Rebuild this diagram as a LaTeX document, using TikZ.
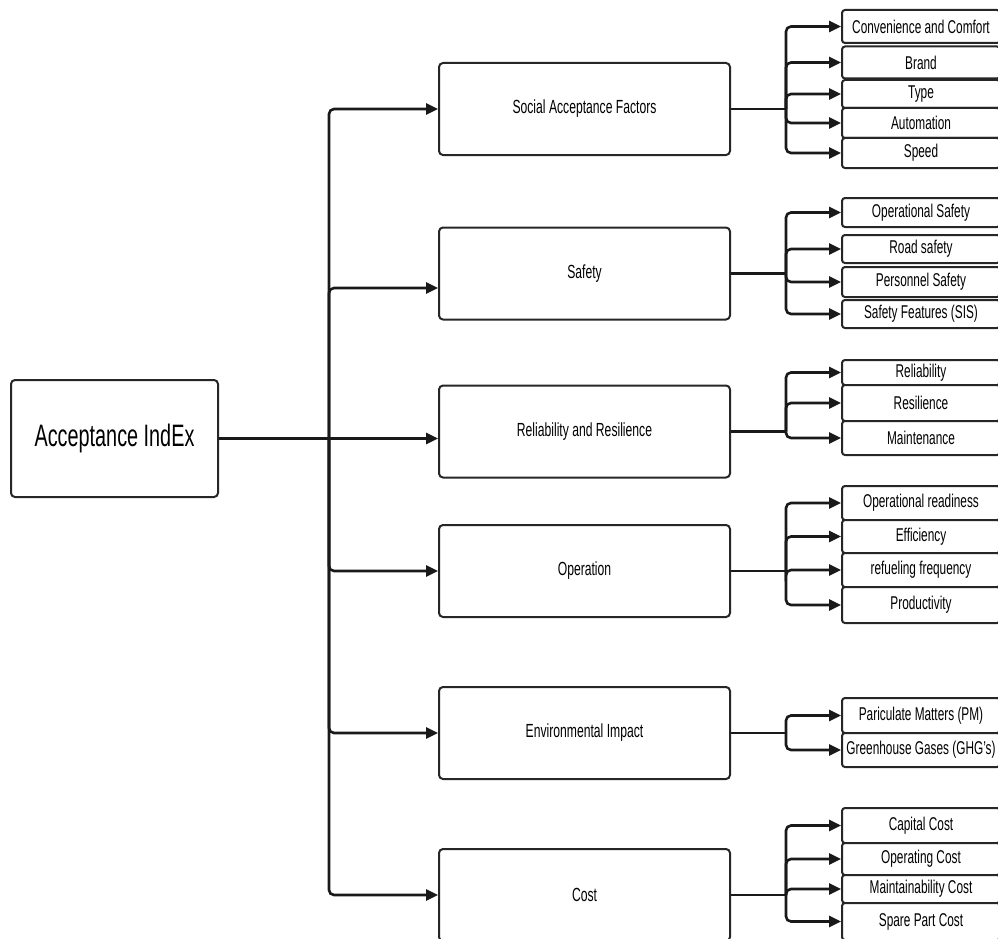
\documentclass[tikz,border=0pt]{standalone}
\usepackage{fontspec}
\setmainfont{Liberation Sans}[FakeStretch=0.64]
\usetikzlibrary{arrows.meta}
\begin{document}
\begin{tikzpicture}[x=1pt,y=-1pt,
  box/.style={draw=black!85, line width=2pt, rounded corners=4pt, fill=white, inner sep=0pt, text=black},
  mid/.style={box, minimum width=291pt, minimum height=92pt, font=\fontsize{19}{22}\selectfont},
  leaf/.style={box, rounded corners=3pt, minimum width=158pt, anchor=west, font=\fontsize{18.5}{22}\selectfont},
  conn/.style={draw=black!90, line width=2.6pt, rounded corners=5pt},
  arr/.style={conn, -{Triangle[length=12pt,width=11pt]}}]
\useasboundingbox (0,0) rectangle (998,939);

% main node
\node[box, minimum width=207pt, minimum height=117pt, font=\fontsize{31}{36}\selectfont] (main) at (114.5,438.5) {Acceptance IndEx};

% middle nodes
\node[mid] (soc) at (584.5,109) {Social Acceptance Factors};
\node[mid] (saf) at (584.5,273.5) {Safety};
\node[mid] (rel) at (584.5,431.5) {Reliability and Resilience};
\node[mid] (ope) at (584.5,571) {Operation};
\node[mid] (env) at (584.5,733) {Environmental Impact};
\node[mid] (cst) at (584.5,895) {Cost};

% leaves: Social
\node[leaf, minimum height=33pt] (s1) at (841,26.5) {Convenience and Comfort};
\node[leaf, minimum height=32pt] (s2) at (841,62.5) {Brand};
\node[leaf, minimum height=28pt] (s3) at (841,94) {Type};
\node[leaf, minimum height=30pt] (s4) at (841,123) {Automation};
\node[leaf, minimum height=30pt] (s5) at (841,153) {Speed};
% Safety
\node[leaf, minimum height=29pt] (f1) at (841,212.5) {Operational Safety};
\node[leaf, minimum height=28pt] (f2) at (841,249) {Road safety};
\node[leaf, minimum height=30pt] (f3) at (841,282) {Personnel Safety};
\node[leaf, minimum height=28pt] (f4) at (841,314) {Safety Features (SIS)};
% Reliability
\node[leaf, minimum height=25pt] (r1) at (841,372.5) {Reliability};
\node[leaf, minimum height=36pt] (r2) at (841,403) {Resilience};
\node[leaf, minimum height=34pt] (r3) at (841,438) {Maintenance};
% Operation
\node[leaf, minimum height=34pt] (o1) at (841,503) {Operational readiness};
\node[leaf, minimum height=33pt] (o2) at (841,536.5) {Efficiency};
\node[leaf, minimum height=34pt] (o3) at (841,570) {refueling frequency};
\node[leaf, minimum height=36pt] (o4) at (841,605) {Productivity};
% Environment
\node[leaf, minimum height=35pt] (e1) at (841,715.5) {Pariculate Matters (PM)};
\node[leaf, minimum height=34pt] (e2) at (841,750) {Greenhouse Gases (GHG's)};
% Cost
\node[leaf, minimum height=35pt] (c1) at (841,825.5) {Capital Cost};
\node[leaf, minimum height=32pt] (c2) at (841,859) {Operating Cost};
\node[leaf, minimum height=28pt] (c3) at (841,889) {Maintainability Cost};
\node[leaf, minimum height=37pt] (c4) at (841,921.5) {Spare Part Cost};

% trunk
\coordinate (t) at (329,438.5);
\draw[conn] (main.east) -- (t);
\draw[arr] (t) -- (rel.west |- t);
\draw[arr] (t) |- (soc.west);
\draw[arr] (t) |- ([yshift=-14.5pt]saf.west);
\draw[arr] (t) |- (ope.west);
\draw[arr] (t) |- (env.west);
\draw[arr] (t) |- (cst.west);

% branch junctions
\path (soc.east) ++(55,0) coordinate (js);
\path (saf.east) ++(55,0) coordinate (jf);
\path (rel.east) ++(55,0) coordinate (jr);
\path (ope.east) ++(55,0) coordinate (jo);
\path (env.east) ++(55,0) coordinate (je);
\path (cst.east) ++(55,0) coordinate (jc);
\draw[conn] (soc.east) -- (js);
\draw[conn] (saf.east) -- (jf);
\draw[conn] (rel.east) -- (jr);
\draw[conn] (ope.east) -- (jo);
\draw[conn] (env.east) -- (je);
\draw[conn] (cst.east) -- (jc);
\foreach \n in {s1,s2,s3,s4,s5} \draw[arr] (js) |- (\n.west);
\foreach \n in {f1,f2,f3,f4} \draw[arr] (jf) |- (\n.west);
\foreach \n in {r1,r2,r3} \draw[arr] (jr) |- (\n.west);
\foreach \n in {o1,o2,o3,o4} \draw[arr] (jo) |- (\n.west);
\foreach \n in {e1,e2} \draw[arr] (je) |- (\n.west);
\foreach \n in {c1,c2,c3,c4} \draw[arr] (jc) |- (\n.west);
\end{tikzpicture}
\end{document}
